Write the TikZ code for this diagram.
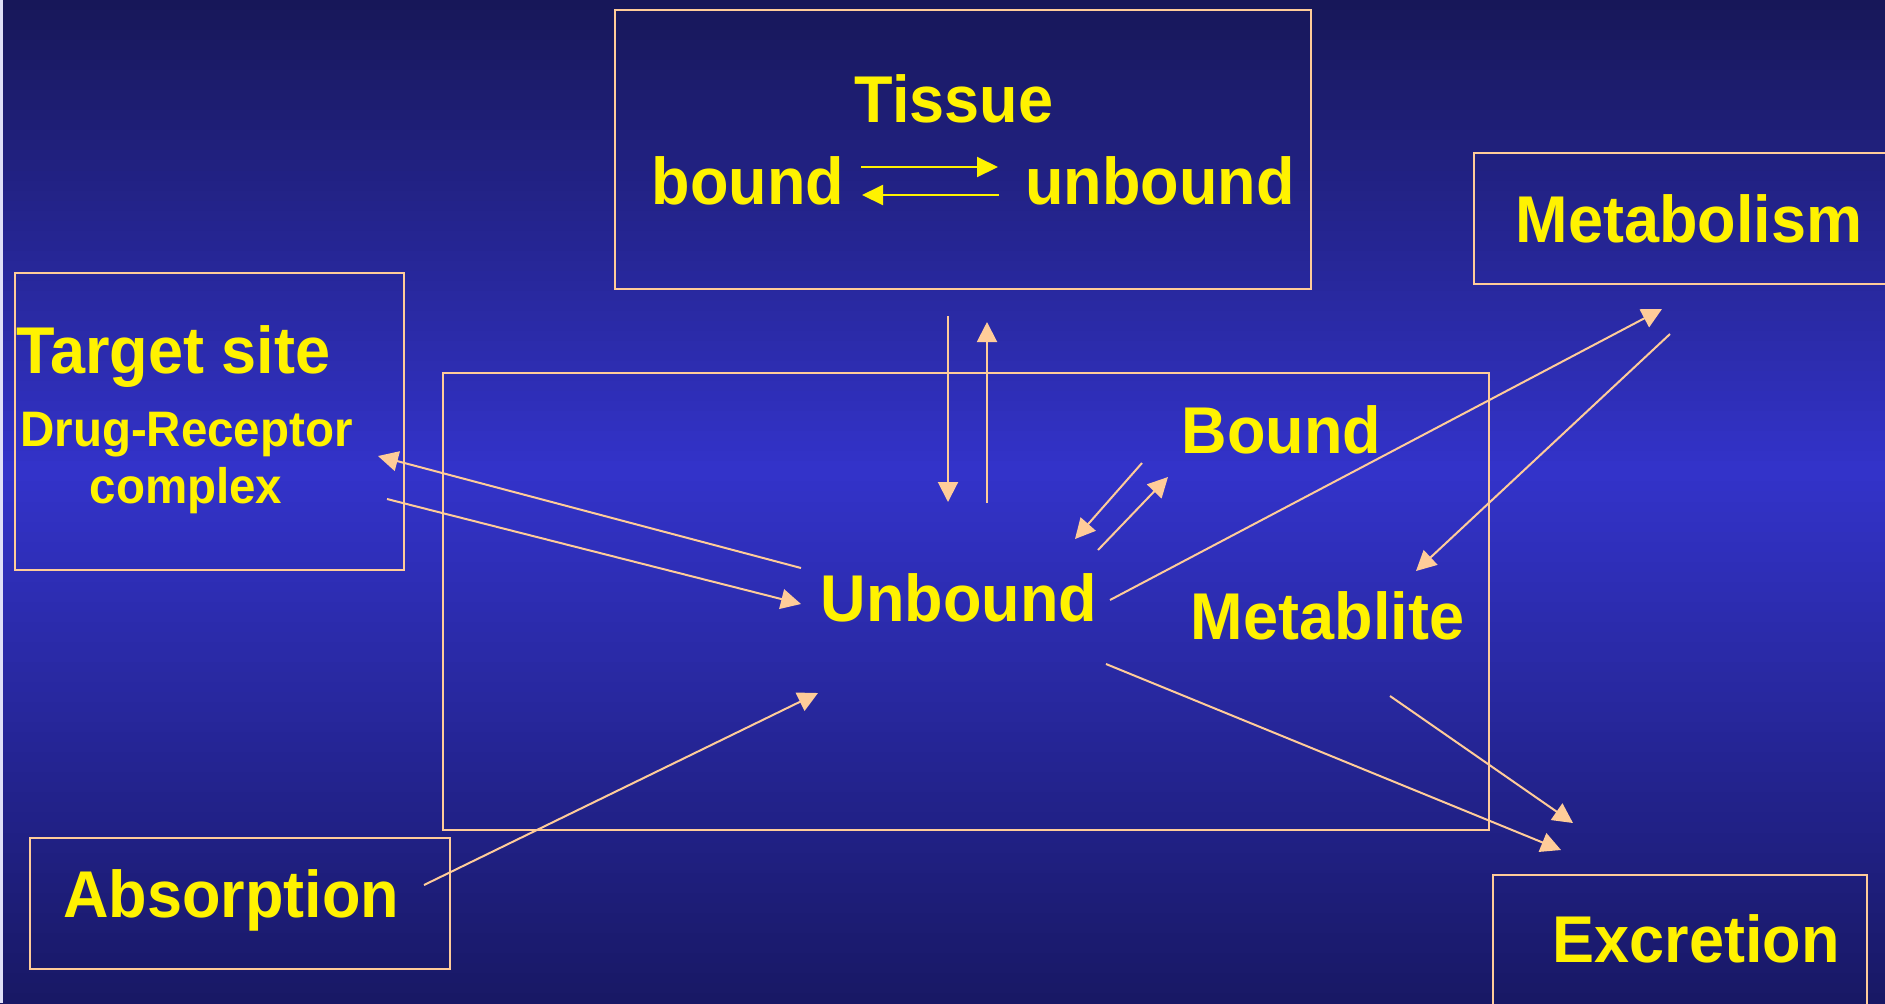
\documentclass[tikz,border=0pt]{standalone}
\usepackage{fontspec}
\setmainfont{Liberation Sans}
\usepackage{graphicx}
\usetikzlibrary{arrows.meta,fit}
\definecolor{peach}{RGB}{255,204,153}
\definecolor{bgtop}{RGB}{23,23,88}
\definecolor{bgmid}{RGB}{51,51,202}
\definecolor{bgbot}{RGB}{24,24,100}
\newcommand{\stt}[1]{\scalebox{1}[1.05]{#1}}
\begin{document}
\begin{tikzpicture}[x=0.5pt,y=-0.5pt,
  box/.style={draw=peach, line width=1pt, inner sep=0pt},
  lbl/.style={text=yellow, inner sep=0pt, anchor=base, font=\fontsize{31.5}{36}\selectfont\bfseries},
  sml/.style={lbl, font=\fontsize{23.75}{28}\selectfont\bfseries},
  flow/.style={draw=peach, line width=1pt, -{Triangle[length=10pt,width=10pt]}},
  eqarrow/.style={draw=yellow, line width=1pt, -{Triangle[length=10.5pt,width=10pt]}}]
\useasboundingbox (0,0) rectangle (1885,1003);
\clip (0,0) rectangle (1885,1003);
% background gradient (dark - bright - dark)
\foreach \i in {0,...,99}{
  \pgfmathsetmacro\myt{(\i+0.5)/100}
  \pgfmathsetmacro\myp{\myt<0.47 ? 100*\myt/0.47 : 100*(1-\myt)/0.53}
  \pgfmathparse{\myt<0.47 ? 1 : 0}
  \ifnum\pgfmathresult=1 \colorlet{cc}{bgmid!\myp!bgtop}\else\colorlet{cc}{bgmid!\myp!bgbot}\fi
  \fill[cc] (0,{\i*10.03}) rectangle (1885,{(\i+1)*10.03+1.5});
}
\fill[white!85!bgmid] (0,0) rectangle (3,1003);

% boxes
\node[box, fit={(615,10) (1311,289)}] (tissuebox) {};
\node[box, fit={(1474,153) (1900,284)}] (metabox) {};
\node[box, fit={(15,273) (404,570)}] (targetbox) {};
\node[box, fit={(443,373) (1489,830)}] (centralbox) {};
\node[box, fit={(30,838) (450,969)}] (absbox) {};
\node[box, fit={(1493,875) (1867,1020)}] (excbox) {};

% labels
\node[lbl] (tissue) at (954,122) {\stt{Tissue}};
\node[lbl] (tbound) at (748,204) {\stt{bound}};
\node[lbl] (tunbound) at (1160,204) {\stt{unbound}};
\node[lbl] (metabolism) at (1689,242) {\stt{Metabolism}};
\node[lbl, anchor=base west] (target) at (16,373) {\stt{Target site}};
\node[sml] (drug) at (186.5,446) {\stt{Drug-Receptor}};
\node[sml] (complex) at (186,503) {\stt{complex}};
\node[lbl] (bound) at (1281.5,453) {\stt{Bound}};
\node[lbl] (unbound) at (959,621) {\stt{Unbound}};
\node[lbl] (metablite) at (1327.5,639) {\stt{Metablite}};
\node[lbl] (absorption) at (231,917) {\stt{Absorption}};
\node[lbl] (excretion) at (1696,962) {\stt{Excretion}};

% connector end points
\coordinate (eqAa) at (861,167);  \coordinate (eqAb) at (998,167);
\coordinate (eqBa) at (999,195);  \coordinate (eqBb) at (862,195);
\coordinate (u2tS) at (801,568);  \coordinate (u2tE) at (378,456);
\coordinate (t2uS) at (387,499);  \coordinate (t2uE) at (801,604);
\coordinate (ti2uS) at (948,316); \coordinate (ti2uE) at (948,502);
\coordinate (u2tiS) at (987,503); \coordinate (u2tiE) at (987,322);
\coordinate (b2uS) at (1142,463); \coordinate (b2uE) at (1075,539);
\coordinate (u2bS) at (1098,550); \coordinate (u2bE) at (1168,477);
\coordinate (u2mS) at (1110,600); \coordinate (u2mE) at (1662,309);
\coordinate (m2mlS) at (1670,334); \coordinate (m2mlE) at (1416,571);
\coordinate (u2eS) at (1106,664); \coordinate (u2eE) at (1561,850);
\coordinate (ml2eS) at (1390,696); \coordinate (ml2eE) at (1573,823);
\coordinate (a2uS) at (424,885);  \coordinate (a2uE) at (818,693);

% tissue equilibrium arrows
\draw[eqarrow] (eqAa) -- (eqAb);
\draw[eqarrow] (eqBa) -- (eqBb);

% flows
\draw[flow] (u2tS) -- (u2tE);
\draw[flow] (t2uS) -- (t2uE);
\draw[flow] (ti2uS) -- (ti2uE);
\draw[flow] (u2tiS) -- (u2tiE);
\draw[flow] (b2uS) -- (b2uE);
\draw[flow] (u2bS) -- (u2bE);
\draw[flow] (u2mS) -- (u2mE);
\draw[flow] (m2mlS) -- (m2mlE);
\draw[flow] (u2eS) -- (u2eE);
\draw[flow] (ml2eS) -- (ml2eE);
\draw[flow] (a2uS) -- (a2uE);
\end{tikzpicture}
\end{document}
